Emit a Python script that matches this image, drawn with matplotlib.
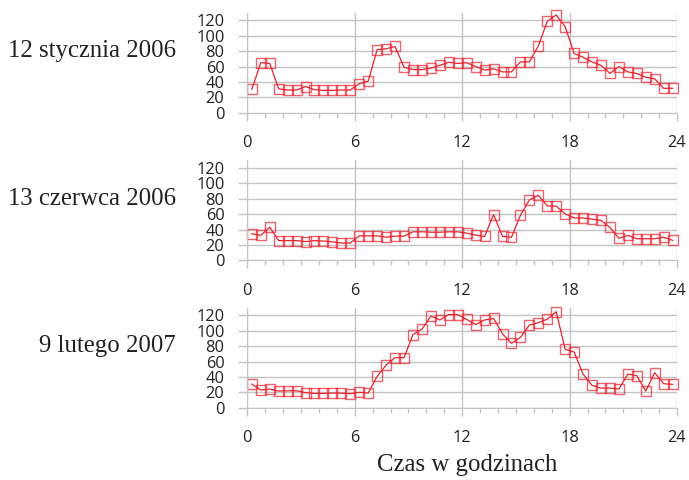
import numpy as np
import matplotlib.pyplot as plt

plt.rcParams['font.family'] = ['Open Sans', 'DejaVu Sans']

# half-hour readings, plotted at the middle of each half hour
hours = np.arange(48) * 0.5 + 0.25

jan = [30.4, 65, 64, 31, 29.5, 29.5, 34, 30, 29, 29, 29.5, 29.5,
       37.7, 41, 82, 83, 86, 59, 56, 56, 58, 61.5, 65.5, 64,
       65, 60, 55.5, 57, 53, 53, 66, 66, 86.6, 118.7, 127, 111.7,
       77, 72, 66, 61.5, 51, 60, 53, 51, 46, 44, 31.7, 31.7]
jun = [34.5, 32.4, 43, 25.6, 25.6, 25.6, 24.3, 25.6, 25, 24, 22.5, 22.5,
       31.8, 31.8, 31.8, 30, 31.4, 31.4, 37, 37, 36.5, 36.5, 37, 37,
       35.3, 32.7, 31, 59.4, 31, 30, 58.5, 78.4, 84.5, 70.7, 70.3, 60.3,
       55, 55, 53.5, 51.8, 42.7, 28.5, 32.4, 28, 28, 28, 30, 25.9]
feb = [30.7, 23, 24.2, 21.6, 22, 22, 19.5, 18.6, 18.6, 19, 19, 18.2,
       20, 19, 40.7, 55.4, 65, 65, 95, 102, 119, 114, 121, 121,
       114.7, 108, 114, 116, 96, 83.6, 91.4, 107.4, 110.4, 115, 124.7, 75.8,
       72.3, 43.7, 29, 25.5, 25.5, 24.2, 43.7, 41.6, 21.6, 45.5, 31.2, 30.3]

day_labels = ['12 stycznia 2006', '13 czerwca 2006', '9 lutego 2007']
x_ticks = [0, 6, 12, 18, 24]
y_ticks = [0, 20, 40, 60, 80, 100, 120]

grey = '#c4c4c4'
fig = plt.figure(figsize=(6.89, 4.8), dpi=100)
bottoms = [0.7652, 0.4577, 0.1506]

for vals, lab, b in zip([jan, jun, feb], day_labels, bottoms):
    ax = fig.add_axes([0.359, b, 0.6237, 0.2085])
    ax.plot(hours, vals, color='#e8222b', lw=0.9, marker='s', ms=6.9,
            mfc='none', mec=(0.93, 0.15, 0.2, 0.72), mew=1.0, clip_on=False)
    ax.set_xlim(0, 24)
    ax.set_ylim(0, 130)
    ax.set_xticks(x_ticks)
    ax.set_xticks(range(25), minor=True)
    ax.set_yticks(y_ticks)
    ax.set_axisbelow(True)
    ax.grid(True, which='major', color=grey, lw=1.0)
    for s in ['top', 'right']:
        ax.spines[s].set_visible(False)
    for s in ['left', 'bottom']:
        ax.spines[s].set_color(grey)
    ax.tick_params(axis='x', which='major', length=5.4, width=1, color=grey,
                   pad=11, labelsize=11.8, labelcolor='#222222')
    ax.tick_params(axis='x', which='minor', length=3.4, width=1, color=grey)
    ax.tick_params(axis='y', length=6.5, width=1, color=grey, pad=10,
                   labelsize=11.8, labelcolor='#222222')
    ax.text(-0.166, 0.555, lab, transform=ax.transAxes, ha='right', va='baseline',
            family='Liberation Serif', fontsize=17.8, color='#222222')

fig.text(0.678, 0.018, 'Czas w godzinach', ha='center', va='baseline',
         family='Liberation Serif', fontsize=17.8, color='#222222')

plt.savefig('out.png', dpi=100)
